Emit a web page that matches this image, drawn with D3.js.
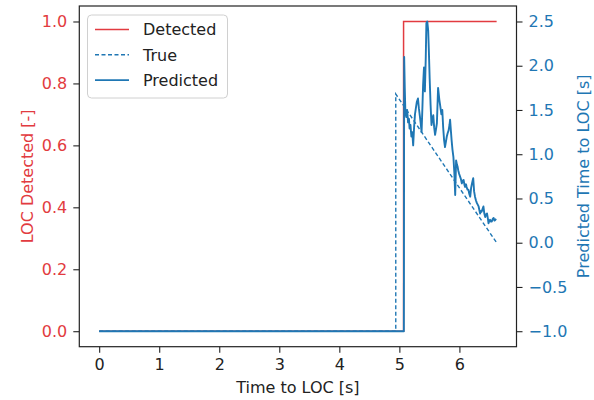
<!DOCTYPE html>
<html><head><meta charset="utf-8">
<script src="https://cdn.jsdelivr.net/npm/d3@7"></script>
<style>body{margin:0;background:#fff}svg{display:block;font-family:"DejaVu Sans",sans-serif}</style>
</head><body><svg id="c" width="594" height="400"></svg>
<script>
// ---- data ----
const detectedX = [0, 5.07, 5.07, 6.62];
const detectedY = [0, 0, 1, 1];
const trueX = [0, 4.94, 4.94, 6.62];
const trueY = [-1, -1, 1.68, 0.0];
const predX = [0, 5.075, 5.08, 5.09, 5.10, 5.115, 5.13, 5.145, 5.16, 5.17, 5.185, 5.20, 5.215, 5.23, 5.245, 5.26, 5.275, 5.29, 5.31, 5.325, 5.34, 5.355, 5.37, 5.385, 5.395, 5.41, 5.425, 5.44, 5.45, 5.465, 5.48, 5.49, 5.505, 5.52, 5.535, 5.55, 5.565, 5.58, 5.595, 5.61, 5.625, 5.645, 5.665, 5.68, 5.70, 5.715, 5.73, 5.745, 5.76, 5.775, 5.79, 5.805, 5.82, 5.835, 5.845, 5.86, 5.87, 5.885, 5.90, 5.915, 5.93, 5.945, 5.96, 5.97, 5.98, 5.995, 6.01, 6.025, 6.04, 6.055, 6.07, 6.085, 6.095, 6.11, 6.12, 6.135, 6.15, 6.165, 6.18, 6.195, 6.21, 6.22, 6.23, 6.245, 6.26, 6.275, 6.29, 6.305, 6.32, 6.335, 6.345, 6.36, 6.37, 6.385, 6.40, 6.415, 6.43, 6.445, 6.46, 6.475, 6.485, 6.50, 6.51, 6.525, 6.54, 6.555, 6.57, 6.585, 6.60, 6.61];
const predY = [-1, -1, 2.10, 1.75, 1.48, 1.42, 1.50, 1.36, 1.40, 1.29, 1.33, 1.20, 1.25, 1.10, 1.30, 1.45, 1.52, 1.59, 1.63, 1.52, 1.44, 1.35, 1.25, 1.55, 1.78, 1.98, 1.71, 2.10, 2.48, 2.50, 2.40, 2.20, 1.85, 1.56, 1.33, 1.40, 1.44, 1.30, 1.22, 1.28, 1.35, 1.75, 1.62, 1.55, 1.45, 1.50, 1.30, 1.16, 1.08, 1.14, 1.20, 1.24, 1.27, 1.33, 1.39, 1.25, 1.16, 1.05, 0.97, 0.80, 0.54, 0.93, 0.88, 0.86, 0.82, 0.78, 0.75, 0.72, 0.67, 0.70, 0.71, 0.65, 0.63, 0.66, 0.63, 0.60, 0.60, 0.55, 0.52, 0.62, 0.67, 0.70, 0.73, 0.58, 0.52, 0.48, 0.45, 0.43, 0.41, 0.36, 0.33, 0.36, 0.35, 0.38, 0.41, 0.33, 0.29, 0.32, 0.33, 0.27, 0.22, 0.25, 0.26, 0.24, 0.24, 0.27, 0.28, 0.25, 0.26, 0.27];
const xTicks = [0, 1, 2, 3, 4, 5, 6];
const leftTicks = [0.0, 0.2, 0.4, 0.6, 0.8, 1.0];
const rightTicks = [-1.0, -0.5, 0.0, 0.5, 1.0, 1.5, 2.0, 2.5];
const legendLabels = ["Detected", "True", "Predicted"];
const xLabel = "Time to LOC [s]";
const leftLabel = "LOC Detected [-]";
const rightLabel = "Predicted Time to LOC [s]";

// ---- layout ----
const RED = "#e23b40", BLUE = "#1f77b4";
const L = 79.3, R = 516.5, T = 6, B = 346.7;
const pad = (lo, hi) => { const p = (hi - lo) * 0.05; return [lo - p, hi + p]; };
const x = d3.scaleLinear().domain(pad(0, 6.62)).range([L, R]);
const yL = d3.scaleLinear().domain(pad(0, 1)).range([B, T]);
const yR = d3.scaleLinear().domain(pad(-1, 2.5)).range([B, T]);

const svg = d3.select("#c");
svg.append("rect").attr("width", 594).attr("height", 400).attr("fill", "#fff");

const fmt = d3.format(".1f");
const styleAxis = (g, col) => {
  g.select(".domain").remove();
  g.selectAll(".tick line").attr("stroke", "#222").attr("stroke-width", 1.1);
  g.selectAll(".tick text").attr("fill", col).style("font-size", "16px").style("font-family", "DejaVu Sans");
};
svg.append("g").attr("transform", `translate(0,${B})`)
  .call(d3.axisBottom(x).tickValues(xTicks).tickFormat(d3.format("d")).tickSize(6).tickPadding(6))
  .call(g => styleAxis(g, "#222"));
svg.append("g").attr("transform", `translate(${L},0)`)
  .call(d3.axisLeft(yL).tickValues(leftTicks).tickFormat(fmt).tickSize(6).tickPadding(6))
  .call(g => styleAxis(g, RED));
svg.append("g").attr("transform", `translate(${R},0)`)
  .call(d3.axisRight(yR).tickValues(rightTicks).tickFormat(fmt).tickSize(6).tickPadding(6))
  .call(g => styleAxis(g, BLUE));

svg.append("clipPath").attr("id", "pc").append("rect")
  .attr("x", L).attr("y", T).attr("width", R - L).attr("height", B - T);
const plot = svg.append("g").attr("clip-path", "url(#pc)");

const lineL = d3.line().x(d => x(d[0])).y(d => yL(d[1]));
const lineR = d3.line().x(d => x(d[0])).y(d => yR(d[1]));
plot.append("path").datum(d3.zip(detectedX, detectedY)).attr("d", lineL)
  .attr("fill", "none").attr("stroke", RED).attr("stroke-width", 1.5);
plot.append("path").datum(d3.zip(trueX, trueY)).attr("d", lineR)
  .attr("fill", "none").attr("stroke", BLUE).attr("stroke-width", 1.4).attr("stroke-dasharray", "4,2.5");
plot.append("path").datum(d3.zip(predX, predY)).attr("d", lineR)
  .attr("fill", "none").attr("stroke", BLUE).attr("stroke-width", 1.9).attr("stroke-linejoin", "round");

svg.append("rect").attr("x", L).attr("y", T).attr("width", R - L).attr("height", B - T)
  .attr("fill", "none").attr("stroke", "#222").attr("stroke-width", 1.2);

// labels
svg.append("text").attr("x", (L + R) / 2).attr("y", 393).attr("text-anchor", "middle")
  .attr("fill", "#222").style("font-size", "16px").text(xLabel);
svg.append("text").attr("transform", `translate(27,${(T + B) / 2}) rotate(-90)`).attr("text-anchor", "middle")
  .attr("dy", "0.35em").attr("fill", RED).style("font-size", "16px").text(leftLabel);
svg.append("text").attr("transform", `translate(583,${(T + B) / 2}) rotate(-90)`).attr("text-anchor", "middle")
  .attr("dy", "0.35em").attr("fill", BLUE).style("font-size", "16px").text(rightLabel);

// legend
const lg = svg.append("g");
lg.append("rect").attr("x", 87.5).attr("y", 15).attr("width", 140).attr("height", 83).attr("rx", 4)
  .attr("fill", "#fff").attr("fill-opacity", 0.8).attr("stroke", "#d0d0d0").attr("stroke-width", 1);
const legStyles = [
  {c: RED, d: null, w: 1.5},
  {c: BLUE, d: "4,2.5", w: 1.4},
  {c: BLUE, d: null, w: 1.7}
];
legendLabels.forEach((t, i) => {
  const cy = 29.5 + i * 25.3;
  lg.append("line").attr("x1", 95).attr("x2", 129).attr("y1", cy).attr("y2", cy)
    .attr("stroke", legStyles[i].c).attr("stroke-width", legStyles[i].w)
    .attr("stroke-dasharray", legStyles[i].d);
  lg.append("text").attr("x", 143).attr("y", cy).attr("dy", "0.36em").attr("fill", "#222")
    .style("font-size", "16px").text(t);
});
</script></body></html>
